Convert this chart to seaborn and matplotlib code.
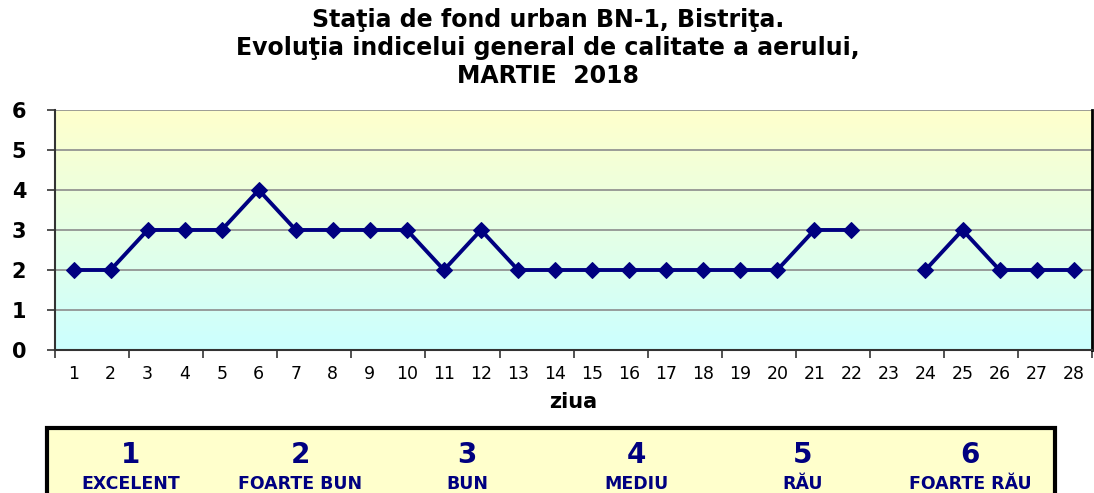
import matplotlib
matplotlib.use("Agg")
import matplotlib.pyplot as plt
import numpy as np
import pandas as pd
import seaborn as sns
from matplotlib.colors import LinearSegmentedColormap
from matplotlib.patches import Rectangle

# date: indicele general pe zile (ziua 23 lipseste)
days = list(range(1, 29))
index_vals = [2, 2, 3, 3, 3, 4, 3, 3, 3, 3, 2, 3, 2, 2, 2, 2, 2, 2, 2, 2,
              3, 3, np.nan, 2, 3, 2, 2, 2]
legend_nums = ["1", "2", "3", "4", "5", "6"]
legend_names = ["EXCELENT", "FOARTE BUN", "BUN", "MEDIU", "RĂU", "FOARTE RĂU"]

title = "Staţia de fond urban BN-1, Bistriţa.\nEvoluţia indicelui general de calitate a aerului,\nMARTIE  2018"

sns.set_style("white")
plt.rcParams["font.family"] = ["DejaVu Sans"]
plt.rcParams["text.color"] = "black"
plt.rcParams["axes.labelcolor"] = "black"
plt.rcParams["xtick.color"] = "black"
plt.rcParams["ytick.color"] = "black"

df = pd.DataFrame({"ziua": days, "indice": index_vals})
# segment nou dupa fiecare valoare lipsa, ca linia sa fie intrerupta
df["segment"] = df["indice"].isna().cumsum()
df = df.dropna()

navy = "#000080"

fig = plt.figure(figsize=(10.94, 4.93), dpi=100)
ax = fig.add_axes([0.0503, 0.290, 0.948, 0.487])

# fundal gradient galben -> cyan
cmap = LinearSegmentedColormap.from_list("bg", ["#CCFFFF", "#FFFFCC"])
grad = np.linspace(0, 1, 256).reshape(-1, 1)
ax.imshow(grad, aspect="auto", cmap=cmap, origin="lower",
          extent=[0.5, 28.5, 0, 6], zorder=0)

for y in range(1, 7):
    ax.axhline(y, color="#8c8c8c", lw=1.2, zorder=1)

sns.lineplot(data=df, x="ziua", y="indice", units="segment", estimator=None,
             color=navy, lw=2.8, marker="D", markersize=8,
             markeredgecolor=navy, ax=ax, zorder=3, legend=False)

ax.set_xlim(0.5, 28.5)
ax.set_ylim(0, 6)
ax.set_xticks(days)
ax.set_xticklabels([str(d) for d in days], fontsize=12.5)
ax.set_xticks(np.arange(0.5, 29, 2), minor=True)
ax.tick_params(axis="x", which="major", length=0, pad=11)
ax.tick_params(axis="x", which="minor", length=6, width=1.2, color="#333333",
               direction="out", bottom=True)
ax.set_yticks(range(0, 7))
ax.set_yticklabels([str(v) for v in range(0, 7)], fontsize=15, fontweight="bold")
ax.tick_params(axis="y", length=6, width=1.2, color="#333333", direction="out",
               left=True, pad=20)
for lab in ax.get_yticklabels():
    lab.set_horizontalalignment("center")

ax.set_xlabel("ziua", fontsize=15, fontweight="bold", labelpad=6)
ax.set_ylabel("")

for side in ["left", "bottom"]:
    ax.spines[side].set_color("#333333")
    ax.spines[side].set_linewidth(1.5)
ax.spines["right"].set_color("black")
ax.spines["right"].set_linewidth(2)
ax.spines["top"].set_visible(False)

fig.text(0.501, 1 - 48 / 493, title, ha="center", va="center", fontsize=17,
         fontweight="bold", linespacing=1.22)

# caseta legenda cu clasele de calitate
box = Rectangle((47 / 1094, -0.02), 1008 / 1094, 1 - 428 / 493 + 0.02,
                transform=fig.transFigure, facecolor="#FFFFCC",
                edgecolor="black", lw=3, clip_on=False)
fig.patches.append(box)
num_x = [131, 300, 467, 636, 803, 970]
for x, n, name in zip(num_x, legend_nums, legend_names):
    fig.text(x / 1094, 1 - 455 / 493, n, ha="center", va="center",
             fontsize=20, fontweight="bold", color=navy)
    fig.text(x / 1094, 1 - 484 / 493, name, ha="center", va="center",
             fontsize=12.5, fontweight="bold", color=navy)

fig.savefig("out.png", dpi=100)
